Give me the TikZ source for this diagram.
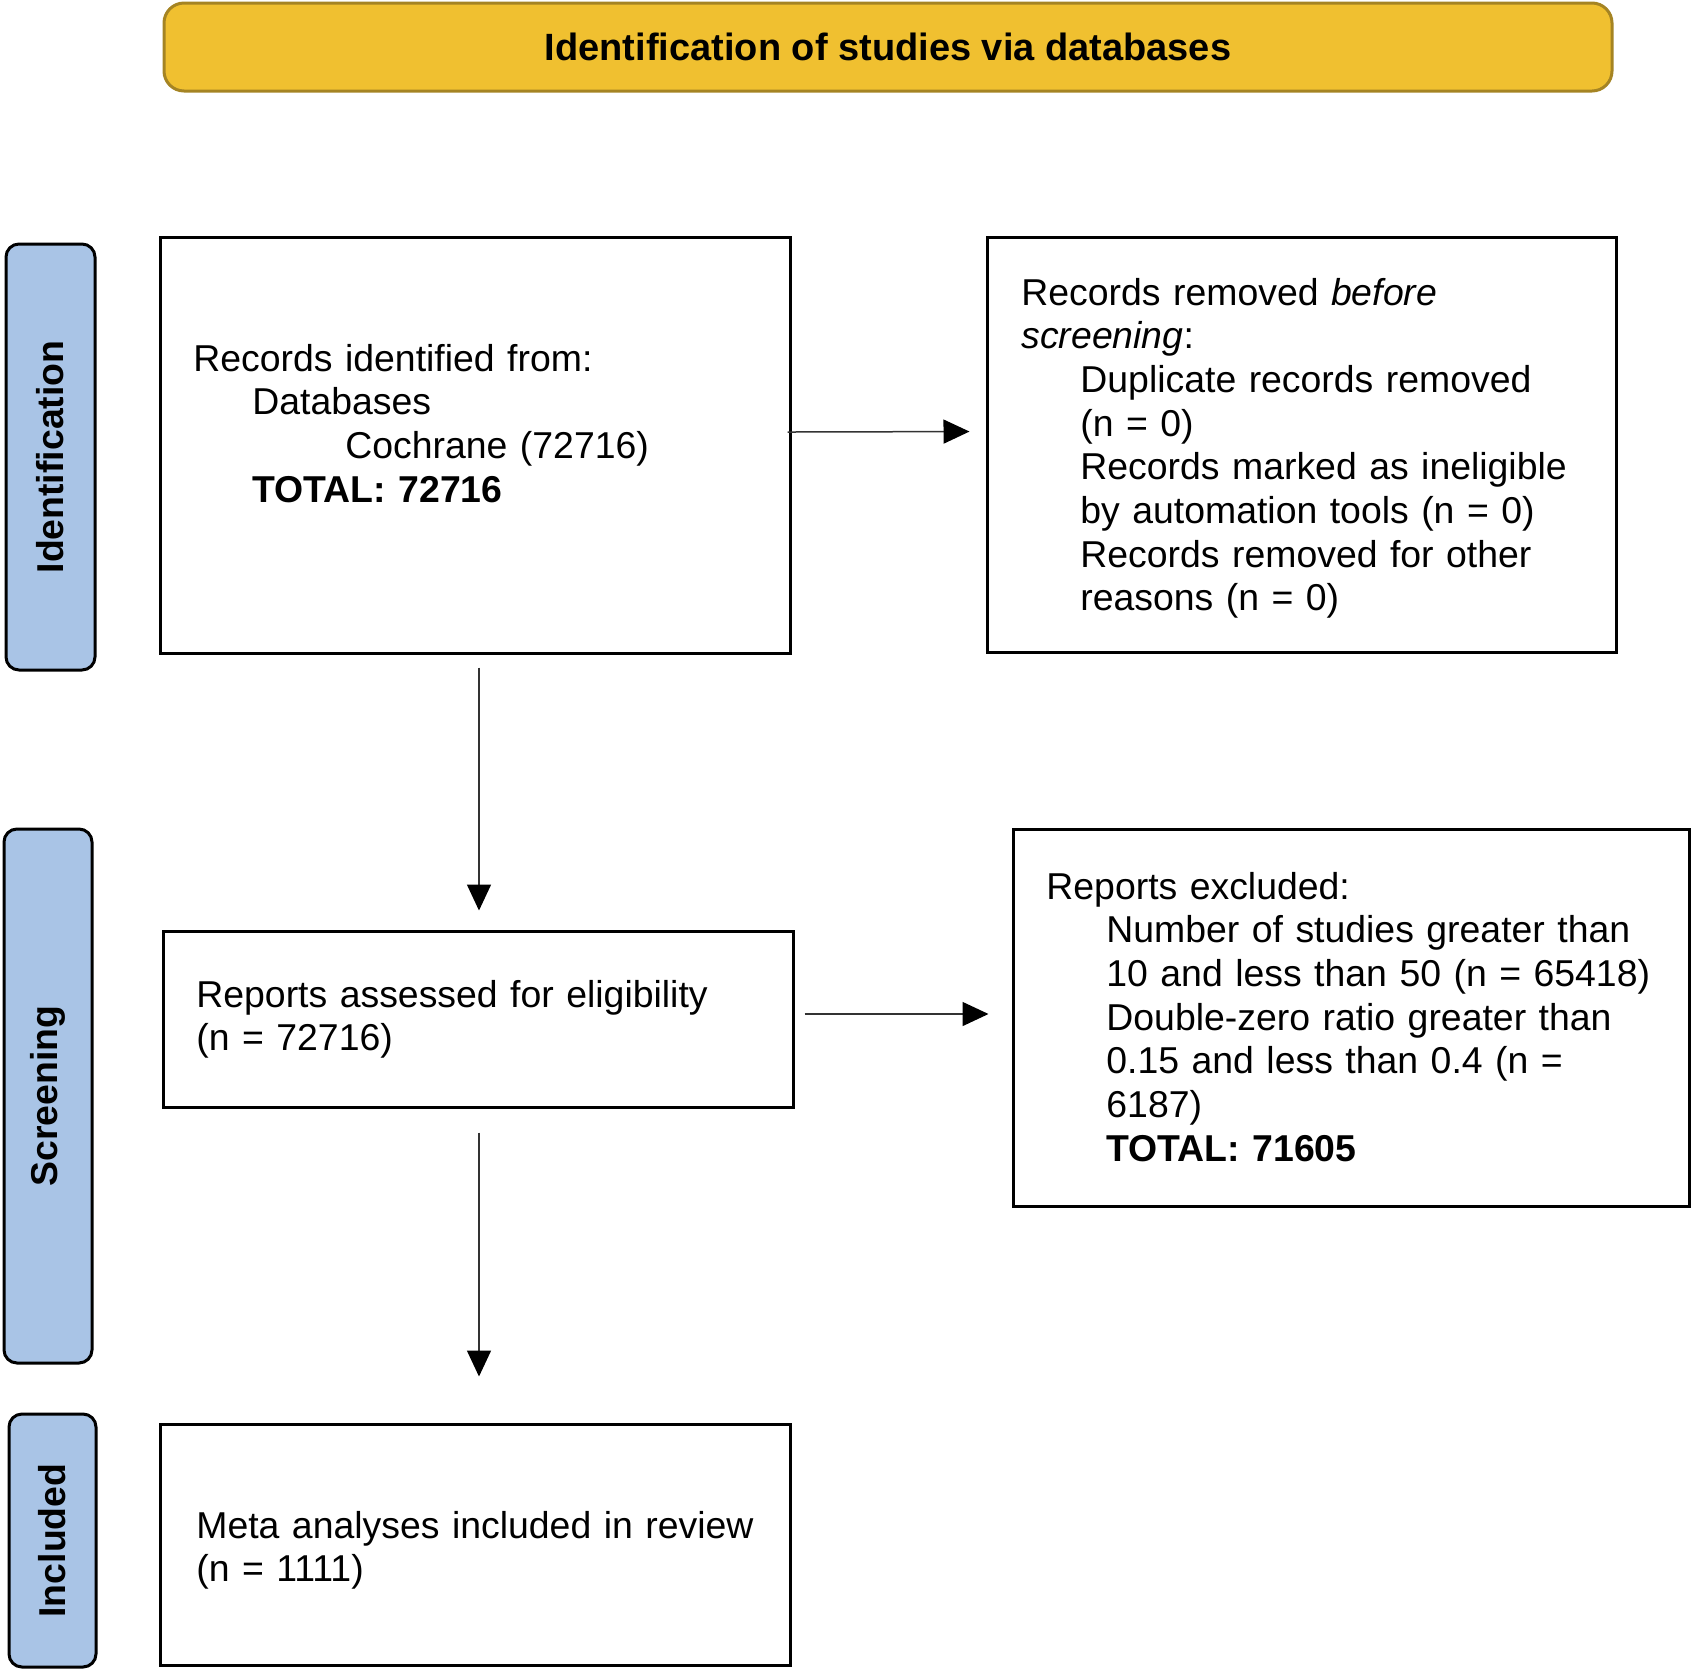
\documentclass[tikz,border=0pt]{standalone}
\usepackage{fontspec}
\setmainfont{Liberation Sans}
\usetikzlibrary{arrows.meta}
\definecolor{hdrfill}{RGB}{240,192,48}
\definecolor{hdrdraw}{RGB}{165,132,35}
\definecolor{sidefill}{RGB}{169,196,230}
\begin{document}
\begin{tikzpicture}[x=0.5pt,y=-0.5pt,
  bodyfont/.style={font=\fontsize{18.7pt}{21.85pt}\selectfont},
  box/.style={draw=black, line width=1.5pt, rectangle, inner sep=0pt},
  sidebar/.style={draw=black, fill=sidefill, line width=1.5pt, rounded corners=6.5pt, inner sep=0pt},
  sidelabel/.style={font=\fontsize{18.7pt}{21pt}\selectfont\bfseries, rotate=90, inner sep=0pt},
  txt/.style={bodyfont, anchor=base west, inner sep=0pt, text width=335pt, align=left},
  arr/.style={draw=black!80, line width=0.75pt, -{Triangle[length=13pt,width=12pt,black]}}
]
\useasboundingbox (0,0) rectangle (1692,1672);

% header
\node[draw=hdrdraw, fill=hdrfill, line width=1.5pt, rounded corners=10pt,
      minimum width=724pt, minimum height=44pt, inner sep=0pt,
      font=\fontsize{19pt}{21.85pt}\selectfont\bfseries] (hdr) at (888,47)
      {Identification of studies via databases};

% side bars
\node[sidebar, minimum width=44.5pt, minimum height=213pt] (sbid) at (50.5,457) {};
\node[sidelabel] (lid) at (sbid.center) {Identification};
\node[sidebar, minimum width=44pt, minimum height=267pt] (sbsc) at (48,1096) {};
\node[sidelabel] (lsc) at (sbsc.center) {Screening};
\node[sidebar, minimum width=43.5pt, minimum height=126.5pt] (sbin) at (52.5,1540.5) {};
\node[sidelabel] (lin) at (sbin.center) {Included};

% boxes
\node[box, minimum width=315pt, minimum height=208pt] (b1) at (475,445) {};
\node[box, minimum width=314.5pt, minimum height=207.5pt] (b2) at (1301.5,444.5) {};
\node[box, minimum width=315pt, minimum height=88pt] (b3) at (478,1019) {};
\node[box, minimum width=338pt, minimum height=188.5pt] (b4) at (1351,1017.5) {};
\node[box, minimum width=315pt, minimum height=120.5pt] (b5) at (475,1544.5) {};

% texts
\node[txt] (t1) at (193,371) {Records identified from:\\
\hspace*{29.5pt}Databases\\
\hspace*{76pt}Cochrane (72716)\\
\hspace*{29.5pt}\textbf{TOTAL: 72716}};

\node[txt] (t2) at (1021,305) {Records removed \textit{before}\\
\textit{screening}:\\
\hspace*{29.5pt}Duplicate records removed\\
\hspace*{29.5pt}(n = 0)\\
\hspace*{29.5pt}Records marked as ineligible\\
\hspace*{29.5pt}by automation tools (n = 0)\\
\hspace*{29.5pt}Records removed for other\\
\hspace*{29.5pt}reasons (n = 0)};

\node[txt] (t3) at (196,1007) {Reports assessed for eligibility\\
(n = 72716)};

\node[txt] (t4) at (1046,899) {Reports excluded:\\
\hspace*{30pt}Number of studies greater than\\
\hspace*{30pt}10 and less than 50 (n = 65418)\\
\hspace*{30pt}Double-zero ratio greater than\\
\hspace*{30pt}0.15 and less than 0.4 (n =\\
\hspace*{30pt}6187)\\
\hspace*{30pt}\textbf{TOTAL: 71605}};

\node[txt] (t5) at (196,1538) {Meta analyses included in review\\
(n = 1111)};

% connectors
\draw[arr, shorten <=-2pt, shorten >=8pt] ([yshift=6.5pt]b1.east) -- ([yshift=6.5pt]b2.west);
\draw[arr, shorten <=6.5pt, shorten >=9.5pt] ([xshift=2pt]b1.south) -- ([xshift=2pt]b1.south |- b3.north);
\draw[arr, shorten <=5pt, shorten >=11.5pt] ([yshift=2.5pt]b3.east) -- ([yshift=2.5pt]b3.east -| b4.west);
\draw[arr, shorten <=12pt, shorten >=23pt] ([xshift=0.5pt]b3.south) -- ([xshift=0.5pt]b3.south |- b5.north);
\end{tikzpicture}
\end{document}
